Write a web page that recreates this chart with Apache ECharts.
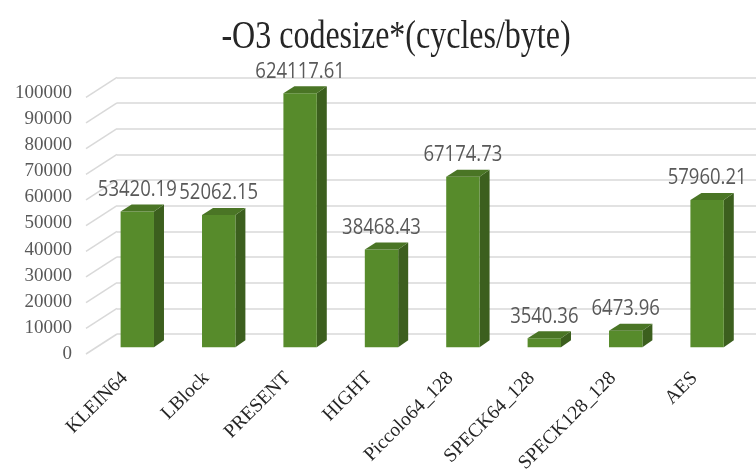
<!DOCTYPE html>
<html>
<head>
<meta charset="utf-8">
<script src="https://cdn.jsdelivr.net/npm/echarts@6/dist/echarts.min.js"></script>
<style>
  html, body { margin: 0; padding: 0; background: #ffffff; }
  #chart { width: 756px; height: 473px; }
</style>
</head>
<body>
<div id="chart"></div>
<script>
// Cipher implementations and their -O3 code size metric (cycles/byte)
const categories = ['KLEIN64', 'LBlock', 'PRESENT', 'HIGHT', 'Piccolo64_128', 'SPECK64_128', 'SPECK128_128', 'AES'];
const values = [53420.19, 52062.15, 624117.61, 38468.43, 67174.73, 3540.36, 6473.96, 57960.21];
const yTicks = [0, 10000, 20000, 30000, 40000, 50000, 60000, 70000, 80000, 90000, 100000];
const yMin = 0;
const yMax = 100000;
const yStep = 10000;

const chart = echarts.init(document.getElementById('chart'), null, { renderer: 'canvas' });

// pseudo-3D depth of each bar (side face shift)
const DEPTH_X = 10;
const DEPTH_Y = 7;
// floor depth between the label edge and the back wall
const FLOOR_X = 31;
const FLOOR_Y = 20;

const FRONT = '#578b2b';
const SIDE = '#3c5f1e';
const TOP = '#4a7525';
const GRID = '#d9d9d9';

function renderBar(params, api) {
  const idx = api.value(0);
  const v = api.value(1);
  const base = api.coord([idx, yMin]);
  const top = api.coord([idx, Math.min(v, yMax)]);
  const w = api.size([1, 0])[0] * 0.41;
  const x0 = base[0] - w / 2;
  const x1 = x0 + w;
  const yb = base[1];
  const yt = top[1];
  return {
    type: 'group',
    children: [
      {
        type: 'polygon',
        shape: { points: [[x1, yt], [x1 + DEPTH_X, yt - DEPTH_Y], [x1 + DEPTH_X, yb - DEPTH_Y], [x1, yb]] },
        style: { fill: SIDE }
      },
      {
        type: 'rect',
        shape: { x: x0, y: yt, width: w, height: yb - yt },
        style: { fill: FRONT }
      },
      {
        type: 'polygon',
        shape: { points: [[x0, yt], [x1, yt], [x1 + DEPTH_X, yt - DEPTH_Y], [x0 + DEPTH_X + 1, yt - DEPTH_Y]] },
        style: { fill: TOP }
      },
      {
        type: 'text',
        x: base[0],
        y: yt - 22,
        scaleY: 1.2,
        style: {
          text: v.toFixed(2),
          fill: '#595959',
          fontFamily: 'Open Sans',
          fontSize: 18.5,
          align: 'center',
          verticalAlign: 'middle'
        }
      }
    ]
  };
}

function renderFloorLine(params, api) {
  const p = api.coord([0, api.value(1)]);
  return {
    type: 'line',
    shape: { x1: p[0] - FLOOR_X, y1: p[1] + FLOOR_Y, x2: p[0], y2: p[1] },
    style: { stroke: GRID, lineWidth: 1.5 }
  };
}

const option = {
  backgroundColor: '#ffffff',
  animation: false,
  graphic: [
    {
      type: 'text',
      x: 396,
      y: 38,
      scaleY: 1.22,
      style: {
        text: '-O3 codesize*(cycles/byte)',
        fill: '#262626',
        fontFamily: 'Liberation Serif',
        fontSize: 32,
        align: 'center',
        verticalAlign: 'middle'
      }
    }
  ],
  grid: [
    // back wall
    { left: 117, right: 0, top: 77.3, height: 256.7, outerBoundsMode: 'none' },
    // value axis labels along the front edge
    { left: 86, width: 1, top: 93, height: 261, outerBoundsMode: 'none' },
    // bars
    { left: 96.6, width: 651.2, top: 93.3, height: 254, outerBoundsMode: 'none' },
    // category labels
    { left: 84, width: 651.2, top: 93.3, height: 267, outerBoundsMode: 'none' }
  ],
  xAxis: [
    { gridIndex: 0, type: 'value', min: 0, max: 1, show: false },
    { gridIndex: 1, type: 'value', min: 0, max: 1, show: false },
    { gridIndex: 2, type: 'category', data: categories, show: false },
    {
      gridIndex: 3, type: 'category', data: categories,
      axisLine: { show: false }, axisTick: { show: false },
      axisLabel: {
        rotate: 45, margin: 15, interval: 0,
        fontFamily: 'Liberation Serif', fontSize: 19.5, color: '#262626'
      }
    }
  ],
  yAxis: [
    {
      gridIndex: 0, type: 'value', min: yMin, max: yMax, interval: yStep,
      axisLine: { show: false }, axisTick: { show: false }, axisLabel: { show: false },
      splitLine: { show: true, lineStyle: { color: GRID, width: 1.5 } }
    },
    {
      gridIndex: 1, type: 'value', min: yMin, max: yMax, interval: yStep,
      axisLine: { show: false }, axisTick: { show: false }, splitLine: { show: false },
      axisLabel: {
        margin: 14, fontFamily: 'Liberation Serif', fontSize: 19, color: '#595959',
        formatter: v => String(v)
      }
    },
    { gridIndex: 2, type: 'value', min: yMin, max: yMax, interval: yStep, show: false },
    { gridIndex: 3, type: 'value', min: yMin, max: yMax, show: false }
  ],
  series: [
    {
      type: 'custom',
      xAxisIndex: 0,
      yAxisIndex: 0,
      renderItem: renderFloorLine,
      data: yTicks.map(t => [0, t]),
      silent: true,
      z: 1
    },
    {
      type: 'custom',
      xAxisIndex: 2,
      yAxisIndex: 2,
      renderItem: renderBar,
      data: values.map((v, i) => [i, v]),
      clip: false,
      z: 5
    }
  ]
};

chart.setOption(option);
</script>
</body>
</html>
